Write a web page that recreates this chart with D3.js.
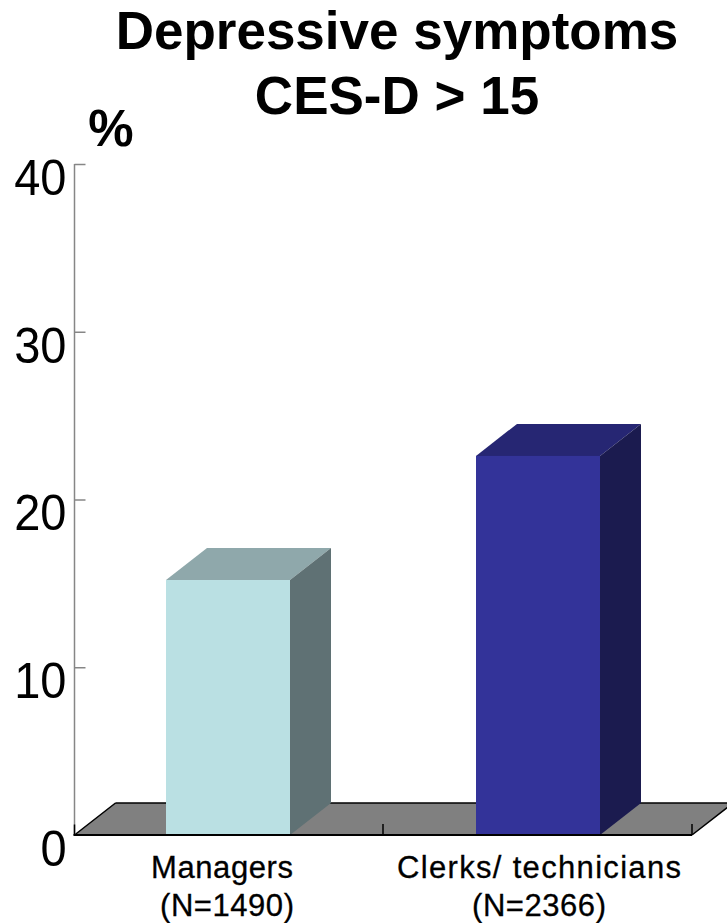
<!DOCTYPE html>
<html>
<head>
<meta charset="utf-8">
<script src="https://cdn.jsdelivr.net/npm/d3@7"></script>
<style>
html, body { margin: 0; padding: 0; background: #fff; }
svg { display: block; }
text { font-family: "Liberation Sans", Arial, sans-serif; fill: #000; }
</style>
</head>
<body>
<svg id="chart" width="727" height="923"></svg>
<script>
// Prevalence of depressive symptoms by occupational group
const titleLines = ["Depressive symptoms", "CES-D > 15"];
const unitLabel = "%";
const categories = ["Managers", "Clerks/ technicians"];
const sampleSizes = ["(N=1490)", "(N=2366)"];
const values = [15.2, 22.6];
const yTicks = [0, 10, 20, 30, 40];
const frontColors = ["#bae0e3", "#333399"];
const topColors = ["#8fa8ab", "#262673"];
const sideColors = ["#5f7174", "#1b1b4f"];

const svg = d3.select("#chart");
const x = d3.scaleBand().domain(categories).range([73, 693]).paddingInner(0.6).paddingOuter(0.3);
const y = d3.scaleLinear().domain([0, 40]).range([835, 164]);
const depth = { dx: 41, dy: -32 };
const floorLeft = 74.5, floorRight = 692;

// Floor of the 3D plot
const floorPts = [[floorLeft, y(0)], [floorRight, y(0)],
  [floorRight + depth.dx, y(0) + depth.dy], [floorLeft + depth.dx, y(0) + depth.dy]];
svg.append("polygon")
  .attr("points", floorPts.join(" "))
  .attr("fill", "#808080");
svg.append("path")
  .attr("d", d3.line()([floorPts[3], floorPts[2]]) + d3.line()([floorPts[0], floorPts[3]]) + d3.line()([floorPts[1], floorPts[2]]))
  .attr("fill", "none").attr("stroke", "#000").attr("stroke-width", 1.5);

// Value axis, ticks point into the plot; digits are slightly condensed
const digitStretch = 1.08;
const axis = d3.axisLeft(y).tickValues(yTicks).tickSize(-11).tickFormat(d3.format("d"));
const gy = svg.append("g").attr("transform", `translate(${floorLeft},0)`).call(axis);
gy.select(".domain").attr("stroke", "#868686").attr("stroke-width", 1.5).attr("d", `M0,${y(40)}V${y(0)}`);
gy.selectAll(".tick line").attr("stroke", "#868686").attr("stroke-width", 1.5);
gy.selectAll(".tick").filter(d => d === 0).select("line").attr("x2", 0).attr("y2", 0).attr("y1", -11).attr("stroke", "#000");
gy.selectAll(".tick text")
  .attr("text-anchor", "end")
  .attr("x", -8)
  .attr("dy", null)
  .attr("y", 28)
  .attr("transform", `scale(1,${digitStretch})`)
  .style("font-size", "47px")
  .style("font-family", '"Liberation Sans", Arial, sans-serif')
  .attr("fill", "#000");

// Bars: front, top and side faces
const bars = svg.append("g").selectAll("g").data(categories).join("g");
bars.append("polygon")
  .attr("points", (c, i) => {
    const l = x(c), r = l + x.bandwidth(), t = y(values[i]);
    return [[l, t], [r, t], [r + depth.dx, t + depth.dy], [l + depth.dx, t + depth.dy]].join(" ");
  })
  .attr("fill", (c, i) => topColors[i]);
bars.append("polygon")
  .attr("points", (c, i) => {
    const r = x(c) + x.bandwidth(), t = y(values[i]), b = y(0);
    return [[r, t], [r + depth.dx, t + depth.dy], [r + depth.dx, b + depth.dy], [r, b]].join(" ");
  })
  .attr("fill", (c, i) => sideColors[i]);
bars.append("rect")
  .attr("x", c => x(c))
  .attr("y", (c, i) => y(values[i]))
  .attr("width", x.bandwidth())
  .attr("height", (c, i) => y(0) - y(values[i]))
  .attr("fill", (c, i) => frontColors[i]);

// Front edge of the floor and the category separators
svg.append("line")
  .attr("x1", floorLeft - 1).attr("x2", floorRight).attr("y1", y(0)).attr("y2", y(0))
  .attr("stroke", "#000").attr("stroke-width", 2);
svg.selectAll("line.sep").data([x("Clerks/ technicians") - x.paddingInner() * x.step() / 2, floorRight]).join("line")
  .attr("class", "sep")
  .attr("x1", d => d).attr("x2", d => d)
  .attr("y1", y(0) - 11).attr("y2", y(0))
  .attr("stroke", "#000").attr("stroke-width", 1.5);

// Category labels
const labelLeft = [151, 397];
const labelWidth = [142, 284];
svg.selectAll("text.cat").data(categories).join("text")
  .attr("class", "cat")
  .attr("x", (c, i) => labelLeft[i])
  .attr("y", 878)
  .attr("textLength", (c, i) => labelWidth[i])
  .style("font-size", "31px")
  .style("stroke", "#000")
  .style("stroke-width", "0.3px")
  .text(c => c);
const nLeft = [160, 472];
const nWidth = [134, 134];
svg.selectAll("text.n").data(sampleSizes).join("text")
  .attr("class", "n")
  .attr("x", (c, i) => nLeft[i])
  .attr("y", 916)
  .attr("textLength", (c, i) => nWidth[i])
  .style("font-size", "31px")
  .style("stroke", "#000")
  .style("stroke-width", "0.3px")
  .text(d => d);

// Title and unit
svg.selectAll("text.title").data(titleLines).join("text")
  .attr("class", "title")
  .attr("x", 397)
  .attr("y", (d, i) => 49 + i * 65)
  .attr("text-anchor", "middle")
  .style("font-size", "53px")
  .style("font-weight", "bold")
  .text(d => d);
svg.append("text")
  .attr("x", 111).attr("y", 146)
  .attr("text-anchor", "middle")
  .style("font-size", "51px")
  .style("font-weight", "bold")
  .text(unitLabel);
</script>
</body>
</html>
